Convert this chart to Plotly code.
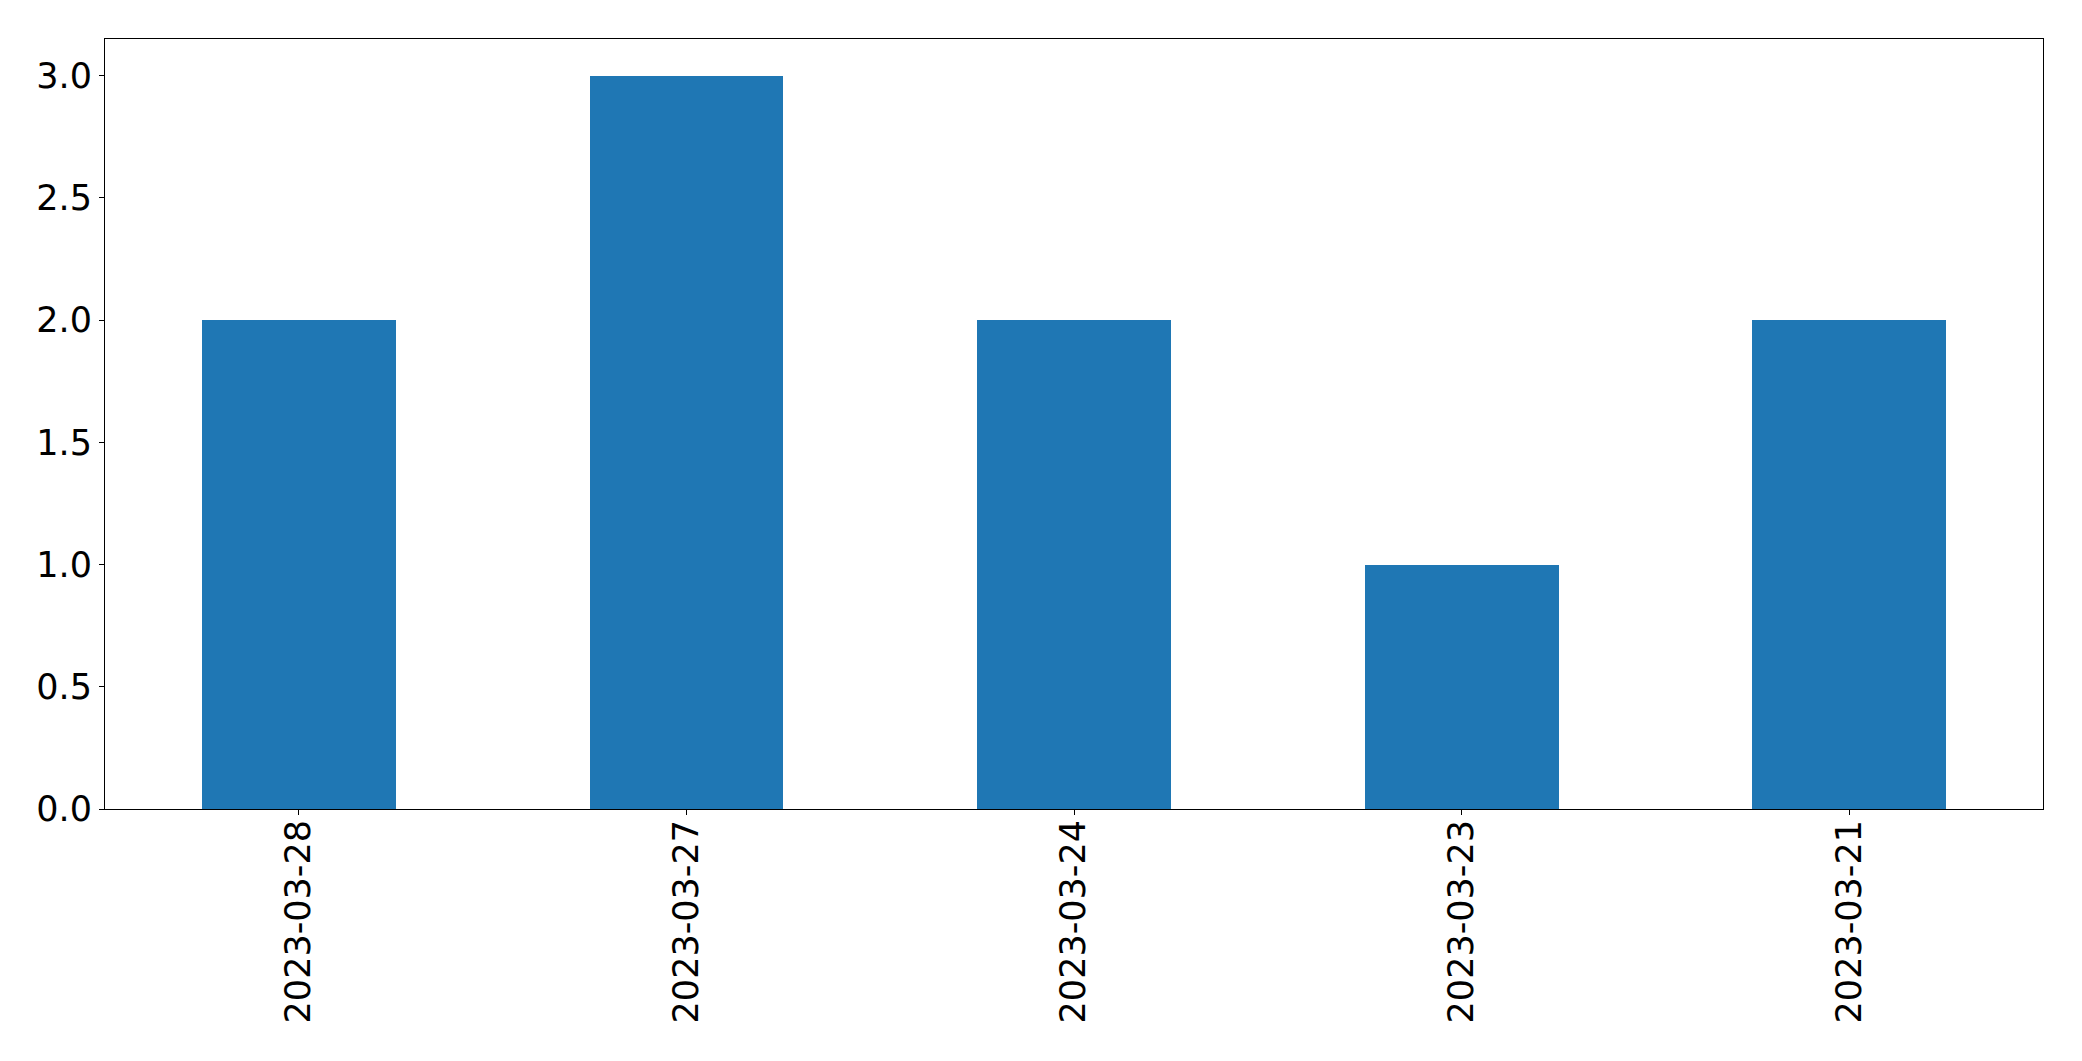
import plotly.graph_objects as go

categories = ["2023-03-28", "2023-03-27", "2023-03-24", "2023-03-23", "2023-03-21"]
values = [2, 3, 2, 1, 2]
y_ticks = [0.0, 0.5, 1.0, 1.5, 2.0, 2.5, 3.0]

fig = go.Figure(
    go.Bar(x=categories, y=values, marker=dict(color="#1f77b4", line=dict(width=0)), width=0.5)
)

axis_common = dict(
    showline=True, linecolor="black", linewidth=1, mirror=True,
    ticks="outside", ticklen=5, tickwidth=1, tickcolor="black",
    showgrid=False, zeroline=False,
    tickfont=dict(family="DejaVu Sans", size=35, color="black"),
)

fig.update_layout(
    width=2082, height=1061,
    margin=dict(l=97, r=47, t=31, b=260),
    paper_bgcolor="white", plot_bgcolor="white",
    showlegend=False,
    bargap=0,
    xaxis=dict(type="category", range=[-0.5, 4.5], tickangle=-90,
               ticklabelstandoff=-9, **axis_common),
    yaxis=dict(range=[0, 3.15], tickvals=y_ticks, tickformat=".1f", **axis_common),
)

fig.write_html("out.html")
